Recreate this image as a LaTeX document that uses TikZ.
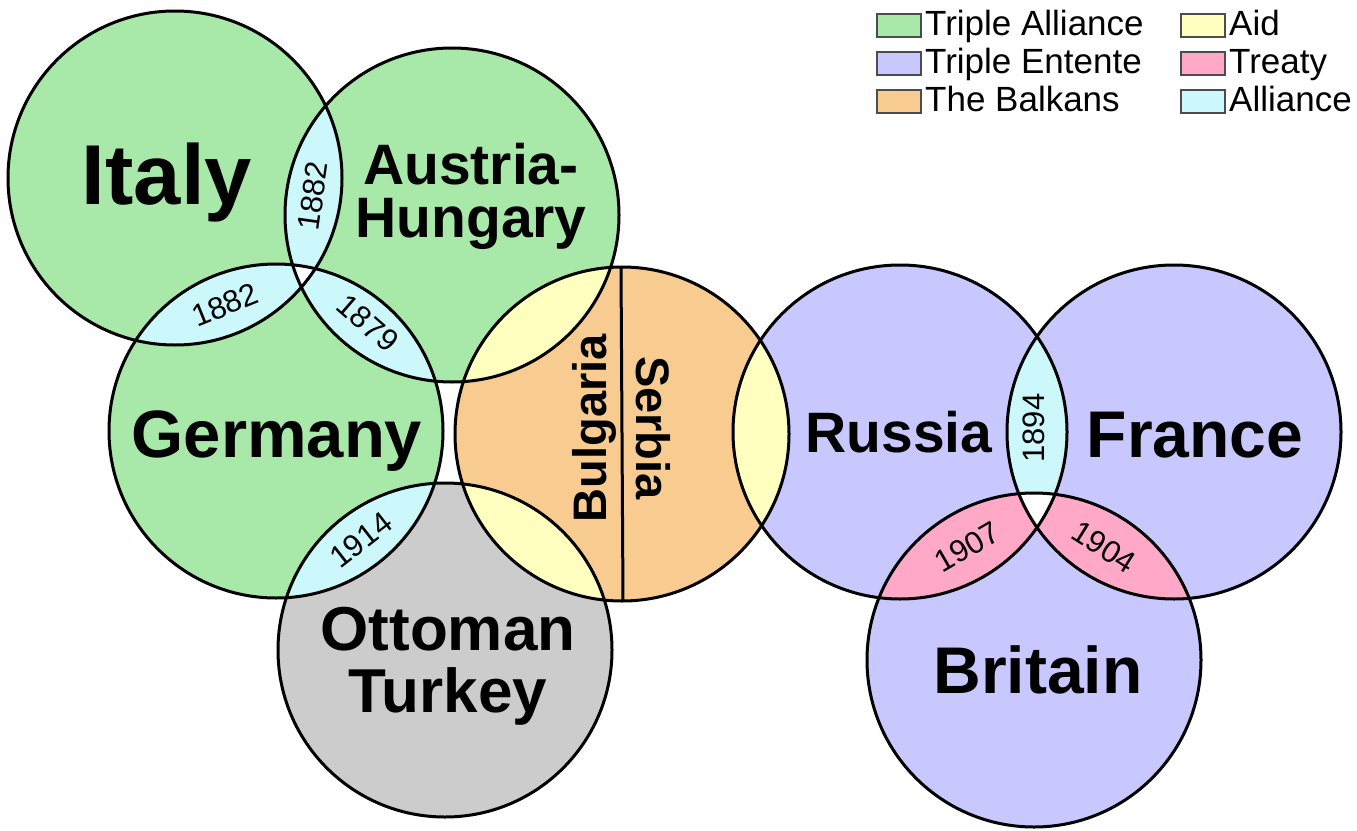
\documentclass[tikz,border=0pt]{standalone}
\usepackage{fontspec}
\setmainfont{Liberation Sans}
\usetikzlibrary{positioning}

\definecolor{allianceGreen}{HTML}{A8E8A8}
\definecolor{ententeBlue}{HTML}{C8C8FF}
\definecolor{balkanOrange}{HTML}{F8CC90}
\definecolor{turkeyGray}{HTML}{CCCCCC}
\definecolor{aidYellow}{HTML}{FFFFC0}
\definecolor{treatyPink}{HTML}{FFA8C8}
\definecolor{pactCyan}{HTML}{CCF8FC}

\newcommand{\rad}{167pt}

\begin{document}
\begin{tikzpicture}[x=1pt, y=-1pt,
    ring/.style={draw=black, line width=3pt},
    country/.style={font=\bfseries\fontsize{#1}{#1}\selectfont, inner sep=0pt, anchor=base},
    country/.default=60,
    year/.style={font=\fontsize{31}{31}\selectfont, inner sep=0pt},
    keybox/.style={draw=black!70, line width=2pt, minimum width=44pt, minimum height=23pt, inner sep=0pt},
    keytext/.style={font=\fontsize{35}{35}\selectfont, inner sep=0pt, text height=25pt, text depth=7pt}]

    \useasboundingbox (0,0) rectangle (1357,830);

    % circle centres
    \coordinate (italy)   at (175,178);
    \coordinate (austria) at (452,215);
    \coordinate (germany) at (276,431);
    \coordinate (ottoman) at (445,650);
    \coordinate (balkans) at (622,434);
    \coordinate (russia)  at (900,432);
    \coordinate (france)  at (1174,432);
    \coordinate (britain) at (1034,660);

    % base fills
    \foreach \c/\col in {italy/allianceGreen, austria/allianceGreen, germany/allianceGreen,
                         ottoman/turkeyGray, balkans/balkanOrange,
                         russia/ententeBlue, france/ententeBlue, britain/ententeBlue}
        \fill[\col] (\c) circle[radius=\rad];

    % overlaps
    \foreach \a/\b/\col in {italy/austria/pactCyan, italy/germany/pactCyan, austria/germany/pactCyan,
                            germany/ottoman/pactCyan, russia/france/pactCyan,
                            balkans/austria/aidYellow, balkans/ottoman/aidYellow, balkans/russia/aidYellow,
                            russia/britain/treatyPink, france/britain/treatyPink}
    {
        \begin{scope}
            \clip (\a) circle[radius=\rad];
            \fill[\col] (\b) circle[radius=\rad];
        \end{scope}
    }

    % centres where three meet
    \foreach \a/\b/\c in {italy/austria/germany, russia/france/britain}
    {
        \begin{scope}
            \clip (\a) circle[radius=\rad];
            \clip (\b) circle[radius=\rad];
            \fill[white] (\c) circle[radius=\rad];
        \end{scope}
    }

    % outlines
    \foreach \c in {italy, austria, germany, ottoman, balkans, russia, france, britain}
        \draw[ring] (\c) circle[radius=\rad];

    \coordinate (balkans-top) at (621,267);
    \coordinate (balkans-bot) at (623,601);
    \draw[ring] (balkans-top) -- (balkans-bot);

    % names
    \node[country=85] (lbl-italy)   at (167,204)  {Italy};
    \node[country=67] (lbl-germany) at (277,457)  {Germany};
    \node[country=57] (lbl-russia)  at (899,452)  {Russia};
    \node[country=66] (lbl-france)  at (1195,457) {France};
    \node[country=66] (lbl-britain) at (1038,693) {Britain};
    \node[country=57, font=\bfseries\fontsize{57}{53}\selectfont, align=center, anchor=north]
        (lbl-austria) at (471,143) {Austria-\\Hungary};
    \node[country=62, font=\bfseries\fontsize{62}{62}\selectfont, align=center, anchor=north]
        (lbl-ottoman) at (448,607) {Ottoman\\Turkey};
    \node[country=47, rotate=90]  (lbl-bulgaria) at (606,428) {Bulgaria};
    \node[country=47, rotate=-90] (lbl-serbia)   at (636,428) {Serbia};

    % years
    \node[year, rotate=82]  (yr-ia) at (313,196)  {1882};
    \node[year, rotate=22]  (yr-ig) at (225,305)  {1882};
    \node[year, rotate=-41] (yr-ag) at (368,323)  {1879};
    \node[year, rotate=38]  (yr-go) at (361,540)  {1914};
    \node[year, rotate=90]  (yr-rf) at (1034,428) {1894};
    \node[year, rotate=30]  (yr-rb) at (967,547)  {1907};
    \node[year, rotate=-32] (yr-fb) at (1104,547) {1904};

    % key
    \foreach \k/\col/\txt/\px/\py in {ta/allianceGreen/Triple Alliance/899/25,
                                      te/ententeBlue/Triple Entente/899/63,
                                      tb/balkanOrange/The Balkans/899/101,
                                      aid/aidYellow/Aid/1203/25,
                                      tr/treatyPink/Treaty/1203/63,
                                      al/pactCyan/Alliance/1203/101}
    {
        \node[keybox, fill=\col] (key-\k) at (\px,\py) {};
        \node[keytext, right=3pt of key-\k, yshift=-1.5pt] (keytxt-\k) {\txt};
    }
\end{tikzpicture}
\end{document}
